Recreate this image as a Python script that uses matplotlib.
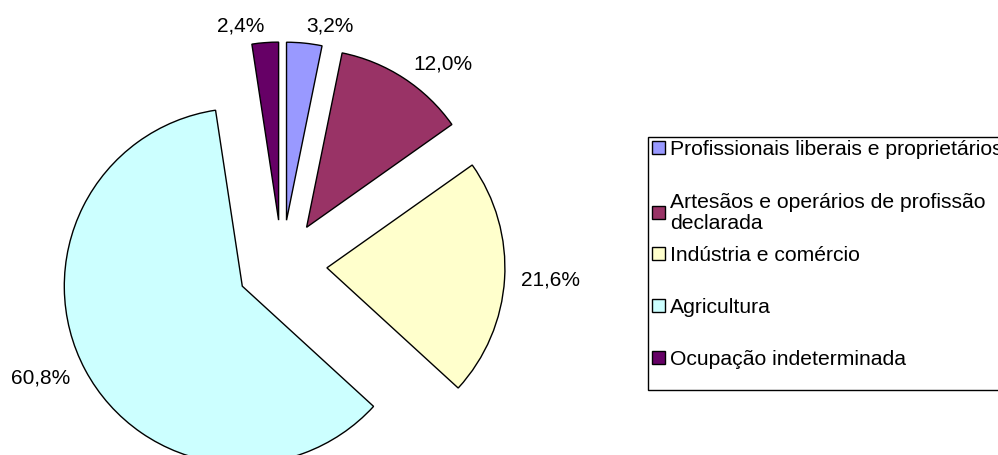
import numpy as np
import matplotlib.pyplot as plt
from matplotlib.patches import Rectangle

plt.rcParams['font.family'] = ['Liberation Sans', 'DejaVu Sans']

labels = ["Profissionais liberais e proprietários",
          "Artesãos e operários de profissão\ndeclarada",
          "Indústria e comércio",
          "Agricultura",
          "Ocupação indeterminada"]
values = [3.2, 12.0, 21.6, 60.8, 2.4]
colors = ["#9999FF", "#993366", "#FFFFCC", "#CCFFFF", "#660066"]


def fmt(p):
    return f"{p:.1f}".replace(".", ",") + "%"


fig = plt.figure(figsize=(9.98, 4.55), dpi=100)
ax = fig.add_axes([0, 0, 1, 1])

# explode is in data units (pixels here)
wedges, texts = ax.pie(
    values, labels=[fmt(v) for v in values], colors=colors,
    explode=[45] * len(values),
    startangle=90, counterclock=False, center=(282, 190), radius=178,
    labeldistance=1.095,
    wedgeprops=dict(edgecolor="black", linewidth=1),
    textprops=dict(fontsize=15, color="black"))

# pie picks alignment from the absolute x, fix it for an off-origin center
for w, t in zip(wedges, texts):
    mid = np.deg2rad((w.theta1 + w.theta2) / 2)
    t.set_ha("left" if np.cos(mid) >= 0 else "right")

ax.set_xlim(0, 998)
ax.set_ylim(0, 455)
ax.set_aspect("equal")
ax.axis("off")

# legend frame (runs off the right edge like the original)
ax.add_patch(Rectangle((648, 455 - 390), 400, 253, facecolor="white",
                       edgecolor="black", linewidth=1, clip_on=False))

# two legend blocks so the wrapped entry doesn't push the rest down
leg_kw = dict(loc="upper left", frameon=False, borderpad=0, borderaxespad=0,
              fontsize=15.2, handlelength=0.6,
              handleheight=0.6, handletextpad=0.24)
leg1 = ax.legend(wedges[:2], labels[:2], labelspacing=1.6,
                 bbox_to_anchor=(652 / 998, 1 - 140 / 455), **leg_kw)
for t in leg1.get_texts():
    t.set_linespacing(1.12)
ax.add_artist(leg1)
ax.legend(wedges[2:], labels[2:], labelspacing=1.56,
          bbox_to_anchor=(652 / 998, 1 - 246 / 455), **leg_kw)

plt.savefig("out.png")
plt.close()
